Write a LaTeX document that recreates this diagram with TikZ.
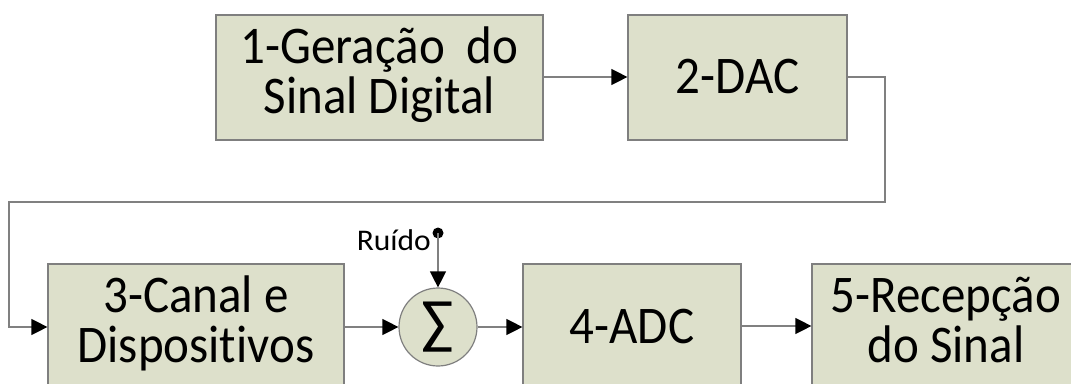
\documentclass[tikz,border=0pt]{standalone}
\usepackage{fontspec}
\setmainfont{Carlito}[Ligatures=NoCommon]
\usetikzlibrary{arrows.meta}
\definecolor{boxfill}{HTML}{DDE0CB}
\definecolor{edgegray}{HTML}{7F7F7F}
\definecolor{wiregray}{HTML}{808080}
\tikzset{
  block/.style={draw=edgegray, line width=1.2pt, fill=boxfill, rectangle, inner sep=0pt},
  label big/.style={font=\fontsize{49}{46}\selectfont, align=center, inner sep=0pt, anchor=base, yscale=1.08},
  wire/.style={draw=wiregray, line width=1.3pt},
  flow/.style={wire, -{Triangle[length=16pt, width=16pt, fill=black, color=black]}},
  adder/.style={draw=edgegray, line width=1.2pt, fill=boxfill, circle, inner sep=0pt, minimum size=78pt}
}
\begin{document}
\begin{tikzpicture}[x=1pt, y=-1pt]
\useasboundingbox (0,0) rectangle (1071,383);
\clip (0,0) rectangle (1071,383);

% blocks
\node[block, minimum width=327pt, minimum height=125pt] (gen) at (379.5,77.5) {};
\node[block, minimum width=219pt, minimum height=125pt] (dac) at (737.5,77.5) {};
\node[block, minimum width=296pt, minimum height=125pt] (chan) at (196,326.5) {};
\node[block, minimum width=218pt, minimum height=125pt] (adc) at (632,326.5) {};
\node[block, minimum width=280pt, minimum height=125pt] (rx) at (952,326.5) {};

% block labels (anchored on the baseline of their last line)
\node[label big] (gentxt) at (379.5,113) {1-Geração\ \ do\\Sinal Digital};
\node[label big] (dactxt) at (737.5,93) {2-DAC};
\node[label big] (chantxt) at (196,362) {3-Canal e\\Dispositivos};
\node[label big] (adctxt) at (632,343) {4-ADC};
\node[label big] (rxtxt) at (946,362) {5-Recepção\\do Sinal};

% summing junction and noise input
\node[adder] (sum) at (438,327) {\fontsize{60}{60}\selectfont ∑};
\fill (438,233) circle (5.5pt);
\coordinate (noise) at (438,233);
\node[font=\fontsize{30}{30}\selectfont, xscale=1.05, anchor=base east, inner sep=0pt] (noisetxt) at (431,250) {Ruído};

% connectors
\draw[flow] (gen.east |- 0,77) -- (dac.west |- 0,77);
\draw[flow] (dac.east |- 0,77) -- (885,77) -- (885,202) -- (9,202) -- (9,327) -- (chan.west |- 0,327);
\draw[flow] (chan.east |- 0,327) -- (sum.west);
\draw[flow] (sum.east) -- (adc.west |- 0,327);
\draw[flow] (adc.east |- 0,326) -- (rx.west |- 0,326);
\draw[flow] (noise) -- (sum.north);
\end{tikzpicture}
\end{document}
